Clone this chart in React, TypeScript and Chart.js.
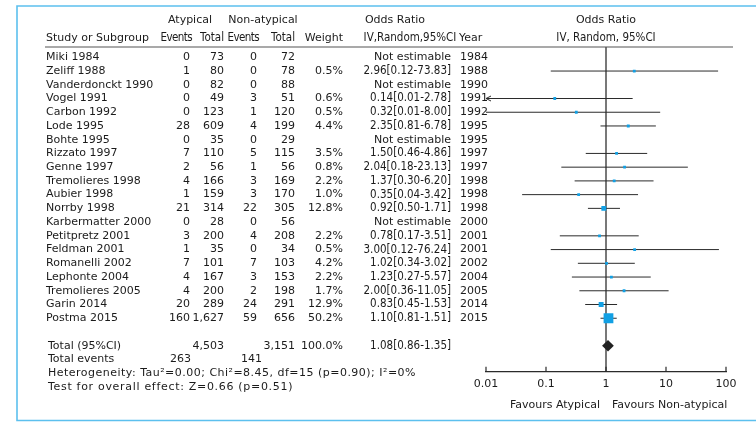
import { useEffect, useRef } from "react";
import { Chart, registerables } from "chart.js";

Chart.register(...registerables);

// ---- study data ----
const studies = [
  "Miki 1984", "Zeliff 1988", "Vanderdonckt 1990", "Vogel 1991", "Carbon 1992",
  "Lode 1995", "Bohte 1995", "Rizzato 1997", "Genne 1997", "Tremolieres 1998",
  "Aubier 1998", "Norrby 1998", "Karbermatter 2000", "Petitpretz 2001", "Feldman 2001",
  "Romanelli 2002", "Lephonte 2004", "Tremolieres 2005", "Garin 2014", "Postma 2015",
];
const atypicalEvents = [0, 1, 0, 0, 0, 28, 0, 7, 2, 4, 1, 21, 0, 3, 1, 7, 4, 4, 20, 160];
const atypicalTotal = [73, 80, 82, 49, 123, 609, 35, 110, 56, 166, 159, 314, 28, 200, 35, 101, 167, 200, 289, 1627];
const nonAtypicalEvents = [0, 0, 0, 3, 1, 4, 0, 5, 1, 3, 3, 22, 0, 4, 0, 7, 3, 2, 24, 59];
const nonAtypicalTotal = [72, 78, 88, 51, 120, 199, 29, 115, 56, 169, 170, 305, 56, 208, 34, 103, 153, 198, 291, 656];
const weights: (number | null)[] = [null, 0.5, null, 0.6, 0.5, 4.4, null, 3.5, 0.8, 2.2, 1.0, 12.8, null, 2.2, 0.5, 4.2, 2.2, 1.7, 12.9, 50.2];
const oddsRatio: (number | null)[] = [null, 2.96, null, 0.14, 0.32, 2.35, null, 1.5, 2.04, 1.37, 0.35, 0.92, null, 0.78, 3.0, 1.02, 1.23, 2.0, 0.83, 1.1];
const ciLower: (number | null)[] = [null, 0.12, null, 0.01, 0.01, 0.81, null, 0.46, 0.18, 0.3, 0.04, 0.5, null, 0.17, 0.12, 0.34, 0.27, 0.36, 0.45, 0.81];
const ciUpper: (number | null)[] = [null, 73.83, null, 2.78, 8.0, 6.78, null, 4.86, 23.13, 6.2, 3.42, 1.71, null, 3.51, 76.24, 3.02, 5.57, 11.05, 1.53, 1.51];
const years = [1984, 1988, 1990, 1991, 1992, 1995, 1995, 1997, 1997, 1998, 1998, 1998, 2000, 2001, 2001, 2002, 2004, 2005, 2014, 2015];
// intervals whose lower limit runs past the axis
const arrowLeftStudies = ["Vogel 1991"];

// ---- pooled result ----
const pooledOR = 1.08;
const pooledLower = 0.86;
const pooledUpper = 1.35;
const totalAtypical = 4503;
const totalNonAtypical = 3151;
const totalWeight = 100.0;
const eventsAtypical = 263;
const eventsNonAtypical = 141;
const heterogeneityText = "Heterogeneity: Tau²=0.00; Chi²=8.45, df=15 (p=0.90); I²=0%";
const overallEffectText = "Test for overall effect: Z=0.66 (p=0.51)";

// ---- axis ----
const tickValues = [0.01, 0.1, 1, 10, 100];
const tickLabels = ["0.01", "0.1", "1", "10", "100"];
const favoursLeft = "Favours Atypical";
const favoursRight = "Favours Non-atypical";

// ---- styling ----
const FONT_FAMILY = "'DejaVu Sans', sans-serif";
const NARROW_FAMILY = "'DejaVu Sans Condensed', 'DejaVu Sans', sans-serif";
const FONT_SIZE = 11;
const TEXT = "#1b1b1b";
const LINE = "#2b2b2b";
const BLUE = "#12a0e4";
const FRAME = "#5cc0ee";
const ROW_MIN = -0.75;
const ROW_MAX = 22.9;
const TOTAL_ROW = 21;
const LEFT = 46;

const fmt2 = (v: number) => v.toFixed(2);
const orText = (o: number, l: number, u: number) => `${fmt2(o)}[${fmt2(l)}-${fmt2(u)}]`;
const thousands = (v: number) => v.toLocaleString("en-US");

const forestTable = {
  id: "forestTable",
  afterDatasetsDraw(chart: any) {
    const ctx: CanvasRenderingContext2D = chart.ctx;
    const xs = chart.scales.x;
    const ys = chart.scales.y;
    ctx.save();
    // pooled diamond
    const cy = ys.getPixelForValue(TOTAL_ROW);
    const h = ys.getPixelForValue(TOTAL_ROW + 0.42) - cy;
    ctx.fillStyle = "#222";
    ctx.beginPath();
    ctx.moveTo(xs.getPixelForValue(pooledLower), cy);
    ctx.lineTo(xs.getPixelForValue(pooledOR), cy - h);
    ctx.lineTo(xs.getPixelForValue(pooledUpper), cy);
    ctx.lineTo(xs.getPixelForValue(pooledOR), cy + h);
    ctx.closePath();
    ctx.fill();
    // arrow heads for truncated intervals
    ctx.strokeStyle = LINE;
    ctx.lineWidth = 1;
    studies.forEach((s, i) => {
      if (!arrowLeftStudies.includes(s)) return;
      const ax = xs.getPixelForValue(Math.max(ciLower[i] as number, xs.min));
      const ay = ys.getPixelForValue(i);
      ctx.beginPath();
      ctx.moveTo(ax + 5, ay - 2.5);
      ctx.lineTo(ax, ay);
      ctx.lineTo(ax + 5, ay + 2.5);
      ctx.stroke();
    });
    ctx.restore();
  },
  afterDraw(chart: any) {
    const ctx: CanvasRenderingContext2D = chart.ctx;
    const xs = chart.scales.x;
    const ys = chart.scales.y;
    const area = chart.chartArea;
    const rowY = (r: number) => ys.getPixelForValue(r);
    ctx.save();

    // frame
    ctx.strokeStyle = FRAME;
    ctx.lineWidth = 1.6;
    ctx.beginPath();
    ctx.moveTo(760, 6);
    ctx.lineTo(17, 6);
    ctx.lineTo(17, 420.5);
    ctx.lineTo(760, 420.5);
    ctx.stroke();

    // header rule
    ctx.strokeStyle = "#555";
    ctx.lineWidth = 1.2;
    ctx.beginPath();
    ctx.moveTo(45, area.top);
    ctx.lineTo(733, area.top);
    ctx.stroke();

    // upward tick marks on the axis
    ctx.strokeStyle = LINE;
    ctx.lineWidth = 1.2;
    tickValues.forEach((v) => {
      const tx = xs.getPixelForValue(v);
      ctx.beginPath();
      ctx.moveTo(tx, area.bottom);
      ctx.lineTo(tx, area.bottom - 5);
      ctx.stroke();
    });

    const regular = () => {
      ctx.font = `${FONT_SIZE}px ${FONT_FAMILY}`;
      (ctx as any).fontStretch = "normal";
    };
    const narrow = (size: number) => {
      ctx.font = `${size}px ${NARROW_FAMILY}`;
      (ctx as any).fontStretch = "condensed";
    };
    regular();
    ctx.fillStyle = TEXT;
    ctx.textBaseline = "middle";
    const t = (s: string, px: number, py: number, align: CanvasTextAlign = "left") => {
      ctx.textAlign = align;
      ctx.fillText(s, px, py);
    };
    // long footnote lines are spread to their column width
    const spread = (s: string, px: number, py: number, width: number) => {
      ctx.textAlign = "left";
      const w = ctx.measureText(s).width;
      const extra = Math.max(0, (width - w) / s.length);
      (ctx as any).letterSpacing = `${extra}px`;
      ctx.fillText(s, px, py);
      (ctx as any).letterSpacing = "0px";
    };

    // column headers
    const h1 = 20;
    const h2 = 38;
    const oneX = xs.getPixelForValue(1);
    t("Atypical", 190, h1, "center");
    t("Non-atypical", 263, h1, "center");
    t("Odds Ratio", 395, h1, "center");
    t("Odds Ratio", oneX, h1, "center");
    t("Study or Subgroup", LEFT, h2);
    t("Weight", 343, h2, "right");
    t("Year", 459, h2);
    narrow(11.5);
    t("Total", 224, h2, "right");
    t("Total", 295, h2, "right");
    (ctx as any).letterSpacing = "-0.6px";
    t("Events", 192, h2, "right");
    t("Events", 259, h2, "right");
    (ctx as any).letterSpacing = "0px";
    t("IV,Random,95%CI", 410, h2, "center");
    t("IV, Random, 95%CI", oneX, h2, "center");

    // study rows
    studies.forEach((s, i) => {
      const ry = rowY(i);
      regular();
      t(s, LEFT, ry);
      t(String(atypicalEvents[i]), 190, ry, "right");
      t(thousands(atypicalTotal[i]), 224, ry, "right");
      t(String(nonAtypicalEvents[i]), 257, ry, "right");
      t(thousands(nonAtypicalTotal[i]), 295, ry, "right");
      const w = weights[i];
      if (w !== null) t(`${w.toFixed(1)}%`, 343, ry, "right");
      t(String(years[i]), 460, ry);
      const o = oddsRatio[i];
      if (o !== null) {
        narrow(11.5);
        t(orText(o, ciLower[i] as number, ciUpper[i] as number), 451, ry, "right");
      } else {
        t("Not estimable", 451, ry, "right");
      }
    });

    // totals
    regular();
    const ty = rowY(TOTAL_ROW);
    t("Total (95%CI)", LEFT + 2, ty);
    t(thousands(totalAtypical), 224, ty, "right");
    t(thousands(totalNonAtypical), 295, ty, "right");
    t(`${totalWeight.toFixed(1)}%`, 343, ty, "right");
    const ey = rowY(TOTAL_ROW + 1);
    t("Total events", LEFT + 2, ey);
    t(String(eventsAtypical), 191, ey, "right");
    t(String(eventsNonAtypical), 262, ey, "right");
    spread(heterogeneityText, LEFT + 2, rowY(TOTAL_ROW + 2), 368);
    spread(overallEffectText, LEFT + 2, rowY(TOTAL_ROW + 3), 245);

    // favours labels
    t(favoursLeft, oneX - 6, 405, "right");
    t(favoursRight, oneX + 6, 405, "left");

    narrow(11.5);
    t(orText(pooledOR, pooledLower, pooledUpper), 451, ty, "right");

    ctx.restore();
  },
};

export default function App() {
  const canvasRef = useRef<HTMLCanvasElement | null>(null);

  useEffect(() => {
    const canvas = canvasRef.current;
    if (!canvas) return;

    const ciSets = studies
      .map((s, i) => ({ s, i }))
      .filter(({ i }) => oddsRatio[i] !== null)
      .map(({ s, i }) => ({
        type: "line" as const,
        label: s,
        data: [
          { x: ciLower[i] as number, y: i },
          { x: ciUpper[i] as number, y: i },
        ],
        borderColor: LINE,
        borderWidth: 1,
        pointRadius: 0,
        order: 2,
      }));

    const squares = studies
      .map((_, i) => i)
      .filter((i) => oddsRatio[i] !== null)
      .map((i) => ({ x: oddsRatio[i] as number, y: i, w: weights[i] as number }));

    const chart = new Chart(canvas, {
      type: "scatter",
      data: {
        datasets: [
          {
            type: "scatter",
            label: "Study estimate",
            data: squares,
            pointStyle: "rect",
            pointRadius: (c: any) => {
              const w = c.raw ? c.raw.w : 1;
              const side = Math.max(2.8, 1.38 * Math.sqrt(w));
              return side / Math.SQRT2;
            },
            pointHoverRadius: 0,
            backgroundColor: BLUE,
            borderWidth: 0,
            order: 0,
          } as any,
          {
            type: "line",
            label: "No effect",
            data: [
              { x: 1, y: ROW_MIN },
              { x: 1, y: ROW_MAX },
            ],
            borderColor: "#1e1e1e",
            borderWidth: 1.2,
            pointRadius: 0,
            order: 3,
          },
          ...ciSets,
        ],
      },
      options: {
        responsive: false,
        animation: false,
        layout: { padding: { left: 486, right: 30, top: 47, bottom: 25 } },
        plugins: { legend: { display: false }, tooltip: { enabled: false } },
        scales: {
          x: {
            type: "logarithmic",
            min: 0.01,
            max: 100,
            position: "bottom",
            grid: { display: false, drawTicks: false },
            border: { display: true, color: LINE, width: 1.2 },
            afterBuildTicks: (scale: any) => {
              scale.ticks = tickValues.map((v) => ({ value: v }));
            },
            ticks: {
              autoSkip: false,
              maxRotation: 0,
              padding: 6,
              color: TEXT,
              font: { family: FONT_FAMILY, size: FONT_SIZE },
              callback: (value: any) => {
                const k = tickValues.indexOf(Number(value));
                return k >= 0 ? tickLabels[k] : "";
              },
            },
          },
          y: {
            type: "linear",
            min: ROW_MIN,
            max: ROW_MAX,
            reverse: true,
            display: false,
          },
        },
      },
      plugins: [forestTable],
    });

    return () => chart.destroy();
  }, []);

  return (
    <div style={{ position: "absolute", left: 0, top: 0, width: 756, height: 422, background: "#fff" }}>
      <canvas ref={canvasRef} width={756} height={422} style={{ width: 756, height: 422, display: "block" }} />
    </div>
  );
}
